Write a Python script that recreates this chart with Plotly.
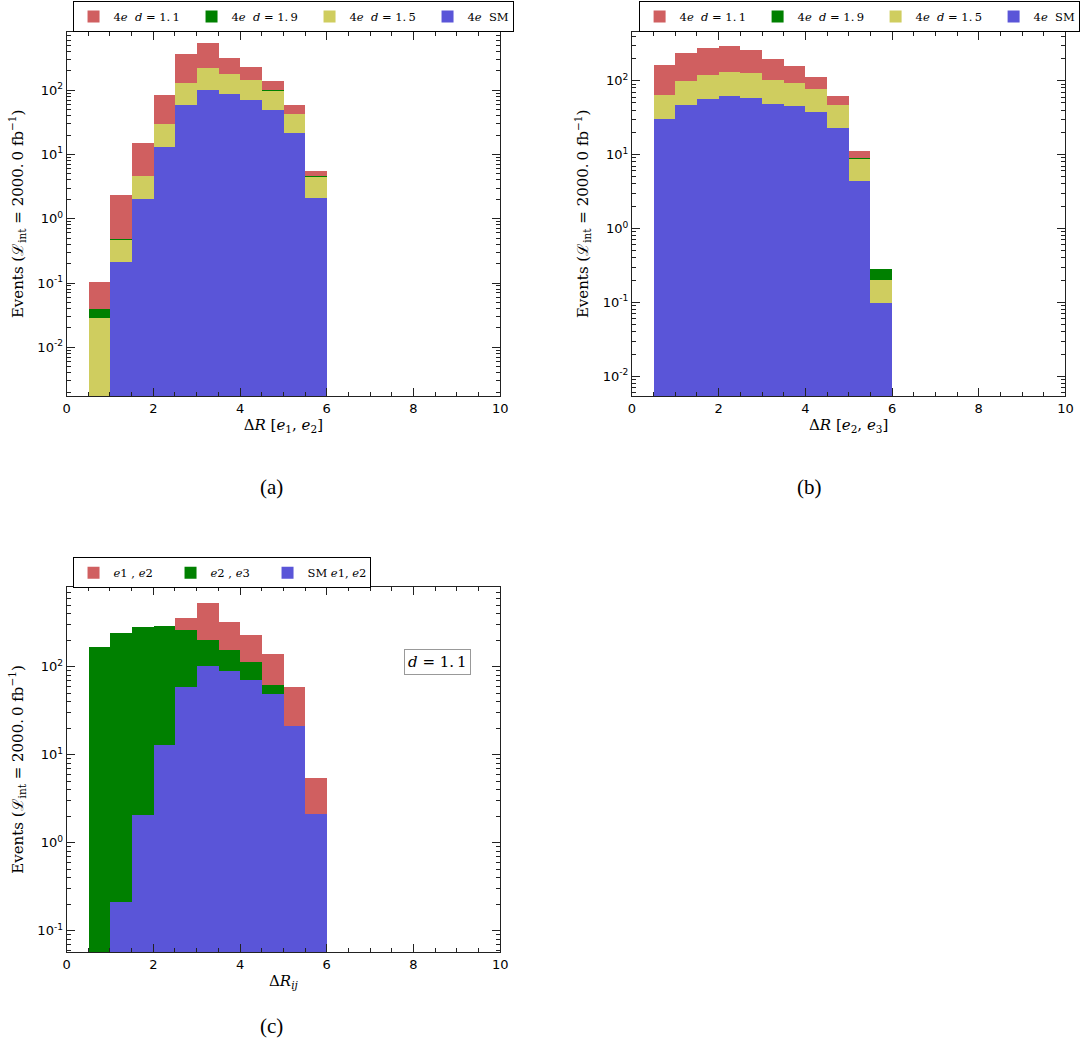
import plotly.graph_objects as go

# ---------------- data ----------------
bin_centers = [0.75, 1.25, 1.75, 2.25, 2.75, 3.25, 3.75, 4.25, 4.75, 5.25, 5.75]
bin_widths = [0.5] * 11

# panel (a): Delta R [e1, e2]
e12_d11 = [0.106, 2.34, 15.2, 84, 364, 540, 323, 230, 142, 59, 5.5]
e12_d19 = [0.0398, 0.49, 4.6, 29, 130, 218, 176, 142, 100, 42.5, 4.6]
e12_d15 = [0.0288, 0.466, 4.7, 29.6, 132, 222, 179, 145, 99, 43.4, 4.45]
e12_sm = [None, 0.212, 2.08, 13.0, 60, 103, 89, 71, 49.5, 21.6, 2.14]

# panel (b): Delta R [e2, e3]
e23_d11 = [167, 242, 283, 295, 263, 201, 158, 113, 62.7, 11.4, 0.25]
e23_d19 = [64, 99, 122, 132, 125, 102, 92, 77, 46, 9.1, 0.288]
e23_d15 = [65.5, 100, 120, 134, 127, 103, 93, 78, 46.9, 8.9, 0.2]
e23_sm = [30.7, 46.9, 56.5, 62, 59.6, 49.4, 45.5, 38, 22.9, 4.5, 0.1]

xtick_vals = [0, 2, 4, 6, 8, 10]
ytick_vals = [0.01, 0.1, 1, 10, 100]
ytick_text = ["10<sup>-2</sup>", "10<sup>-1</sup>", "10<sup>0</sup>", "10<sup>1</sup>", "10<sup>2</sup>"]
ytick_minor = [m * 10.0 ** e for e in range(-3, 3) for m in range(2, 10)]

names_ab = ["4<i>e</i>  <i>d</i> = 1.\u20091", "4<i>e</i>  <i>d</i> = 1.\u20099",
            "4<i>e</i>  <i>d</i> = 1.\u20095", "4<i>e</i>  SM"]
names_c = ["<i>e</i>1 , <i>e</i>2", "<i>e</i>2 , <i>e</i>3", "SM <i>e</i>1, <i>e</i>2"]

# ---------------- style ----------------
RED = "#D05F60"
GREEN = "#008000"
YELLOW = "#CFCD5F"
BLUE = "#5A55D8"
AX = "#222222"
W, H = 1084, 1057
SERIF = "DejaVu Serif"
SANS = "DejaVu Sans"

fig = go.Figure()


def add_bar(y, color, name, xa, ya, legend, lw=None):
    fig.add_trace(go.Bar(
        x=bin_centers, y=y, width=bin_widths, name=name,
        marker=dict(color=color, line=dict(width=0)),
        xaxis=xa, yaxis=ya, legend=legend, legendwidth=lw,
    ))


# panel a
add_bar(e12_d11, RED, names_ab[0], "x", "y", "legend")
add_bar(e12_d19, GREEN, names_ab[1], "x", "y", "legend")
add_bar(e12_d15, YELLOW, names_ab[2], "x", "y", "legend")
add_bar(e12_sm, BLUE, names_ab[3], "x", "y", "legend", 40)
# panel b
add_bar(e23_d11, RED, names_ab[0], "x2", "y2", "legend2")
add_bar(e23_d19, GREEN, names_ab[1], "x2", "y2", "legend2")
add_bar(e23_d15, YELLOW, names_ab[2], "x2", "y2", "legend2")
add_bar(e23_sm, BLUE, names_ab[3], "x2", "y2", "legend2", 40)
# panel c
add_bar(e12_d11, RED, names_c[0], "x3", "y3", "legend3")
add_bar(e23_d11, GREEN, names_c[1], "x3", "y3", "legend3")
add_bar(e12_sm, BLUE, names_c[2], "x3", "y3", "legend3", 57)


def px_x(a, b):
    return [a / W, b / W]


def px_y(top, bottom):
    return [1 - bottom / H, 1 - top / H]


def xaxis(domain, anchor, title):
    return dict(
        domain=domain, anchor=anchor, range=[0, 10],
        tickvals=xtick_vals, ticks="inside", ticklen=8, tickwidth=1,
        tickcolor=AX, showline=True, linecolor=AX, linewidth=1,
        mirror="ticks", showgrid=False, zeroline=False,
        minor=dict(dtick=0.5, ticks="inside", ticklen=4, tickwidth=1, tickcolor=AX, showgrid=False),
        tickfont=dict(family=SANS, size=13, color="black"),
        title=dict(text=title, font=dict(family=SERIF, size=15, color="black"), standoff=4),
    )


YTITLE = "Events (\u2112<sub>int</sub> = 2000.\u20090 fb<sup>\u22121</sup>)"


def yaxis(domain, anchor, rng):
    return dict(
        domain=domain, anchor=anchor, type="log", range=rng,
        tickvals=ytick_vals, ticktext=ytick_text,
        ticks="inside", ticklen=8, tickwidth=1, tickcolor=AX,
        showline=True, linecolor=AX, linewidth=1, mirror="ticks",
        showgrid=False, zeroline=False,
        minor=dict(tickmode="array", tickvals=ytick_minor, ticks="inside", ticklen=4,
                   tickwidth=1, tickcolor=AX, showgrid=False),
        tickfont=dict(family=SANS, size=13, color="black"),
        title=dict(text=YTITLE, font=dict(family=SERIF, size=15, color="black"), standoff=10),
    )


leg_common = dict(
    orientation="h", xanchor="left", yanchor="top", bgcolor="white",
    bordercolor="black", borderwidth=1, font=dict(family=SERIF, size=11.5, color="black"),
    itemwidth=30, tracegroupgap=0, entrywidthmode="pixels",
)

fig.update_layout(
    width=W, height=H, margin=dict(l=0, r=0, t=0, b=0),
    paper_bgcolor="white", plot_bgcolor="white",
    barmode="overlay", bargap=0,
    xaxis=xaxis(px_x(63.3, 501.7), "y", "\u0394<i>R</i> [<i>e</i><sub>1</sub>, <i>e</i><sub>2</sub>]"),
    yaxis=yaxis(px_y(31.7, 396), "x", [-2.757, 2.908]),
    xaxis2=xaxis(px_x(635, 1073.3), "y2", "\u0394<i>R</i> [<i>e</i><sub>2</sub>, <i>e</i><sub>3</sub>]"),
    yaxis2=yaxis(px_y(31.7, 396), "x2", [-2.267, 2.663]),
    xaxis3=xaxis(px_x(63.3, 501.7), "y3", "\u0394<i>R</i><sub><i>ij</i></sub>"),
    yaxis3=yaxis(px_y(586.7, 952.3), "x3", [-1.245, 2.909]),
    legend=dict(leg_common, x=69.3 / W, y=1 - 1 / H, entrywidth=73),
    legend2=dict(leg_common, x=641.7 / W, y=1 - 1 / H, entrywidth=73),
    legend3=dict(leg_common, x=69.3 / W, y=1 - 557.3 / H, entrywidth=52),
    annotations=[
        dict(text="(a)", x=257 / W, y=1 - 487 / H, xref="paper", yref="paper", showarrow=False,
             font=dict(family="Liberation Serif", size=21, color="black")),
        dict(text="(b)", x=829 / W, y=1 - 487 / H, xref="paper", yref="paper", showarrow=False,
             font=dict(family="Liberation Serif", size=21, color="black")),
        dict(text="(c)", x=257 / W, y=1 - 1040 / H, xref="paper", yref="paper", showarrow=False,
             font=dict(family="Liberation Serif", size=21, color="black")),
        dict(text="<i>d</i> = 1.\u20091", x=438.5 / W, y=1 - 661.5 / H, xref="paper", yref="paper",
             showarrow=False, bordercolor="#999", borderwidth=1, borderpad=3, bgcolor="white",
             font=dict(family=SERIF, size=15, color="black")),
    ],
)

fig.write_html("out.html")
